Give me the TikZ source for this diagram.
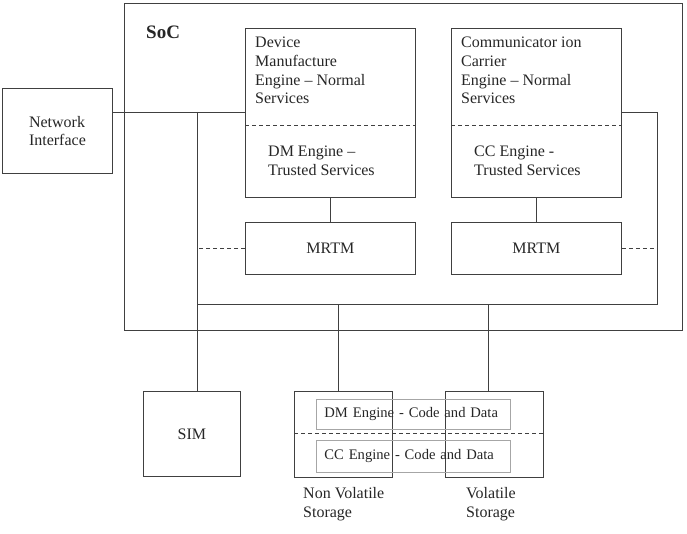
\documentclass[tikz,border=0pt]{standalone}
\usepackage{fontspec}
\setmainfont{Liberation Serif}
\begin{document}
\begin{tikzpicture}[x=1bp,y=-1bp,
  every node/.style={font=\fontsize{16bp}{18.7bp}\selectfont, text=black!85},
  box/.style={draw=black!75, line width=0.9bp, inner sep=0pt, anchor=north west},
  graybox/.style={draw=black!35, line width=0.9bp, inner ysep=0pt, inner xsep=8bp, anchor=north west, align=left, font=\fontsize{14.6bp}{17bp}\selectfont},
  conn/.style={draw=black!75, line width=0.9bp},
  dconn/.style={draw=black!75, line width=0.9bp, dashed, dash pattern=on 4bp off 3bp},
  txt/.style={inner sep=0pt, anchor=north west, align=left}]
\useasboundingbox (0,0) rectangle (687,534);

% boxes
\node[box, minimum width=558bp, minimum height=327bp] (soc) at (124,3) {};
\node[box, minimum width=110bp, minimum height=85bp, align=left] (ni) at (2,88) {Network\\Interface};
\node[box, minimum width=170bp, minimum height=169bp] (dm) at (245,28) {};
\node[box, minimum width=170bp, minimum height=169bp] (cc) at (451,28) {};
\node[box, minimum width=170bp, minimum height=52bp] (mrtm1) at (245,222) {MRTM};
\node[box, minimum width=170bp, minimum height=52bp] (mrtm2) at (451,222) {MRTM};
\node[box, minimum width=97bp, minimum height=85bp] (sim) at (143,391) {SIM};
\node[box, minimum width=98bp, minimum height=86bp] (nv) at (294,391) {};
\node[box, minimum width=98bp, minimum height=86bp] (vs) at (445,391) {};
\node[graybox, text width=178bp, minimum height=30bp] (dmcode) at (316,399) {DM Engine - Code and Data};
\node[graybox, text width=178bp, minimum height=32bp] (cccode) at (316,440) {CC Engine - Code and Data};

% texts
\node[inner sep=0pt, anchor=north west, font=\fontsize{19bp}{22bp}\selectfont\bfseries] (soclabel) at (146,26) {SoC};
\node[txt] (dmnormal) at (255,37) {Device\\Manufacture\\Engine – Normal\\Services};
\node[txt] (dmtrusted) at (268,146) {DM Engine –\\Trusted Services};
\node[txt] (ccnormal) at (461,37) {Communicator ion\\Carrier\\Engine – Normal\\Services};
\node[txt] (cctrusted) at (474,146) {CC Engine -\\Trusted Services};
\node[txt] (nvlabel) at (303,487) {Non Volatile\\Storage};
\node[txt] (vslabel) at (466,487) {Volatile\\Storage};

% dashed separators
\draw[dconn] ([yshift=-97bp]dm.north west) -- ([yshift=-97bp]dm.north east);
\draw[dconn] ([yshift=-97bp]cc.north west) -- ([yshift=-97bp]cc.north east);
\coordinate (sl) at (294,433);
\coordinate (sr) at (543,433);
\draw[dconn] (sl) -- (sr);

% connectors
\coordinate (j1) at (197,112);
\coordinate (j2) at (197,304);
\coordinate (j3) at (657,304);
\coordinate (j4) at (657,112);
\coordinate (t1) at (338,304);
\coordinate (t2) at (488,304);
\draw[conn] (ni.east |- j1) -- (dm.west |- j1);
\draw[conn] (j1) -- (j1 |- sim.north);
\draw[conn] (cc.east |- j4) -- (j4) -- (j3) -- (j2);
\draw[conn] (dm.south) -- (mrtm1.north);
\draw[conn] (cc.south) -- (mrtm2.north);
\draw[dconn] (mrtm1.west) -- (mrtm1.west -| j1);
\draw[dconn] (mrtm2.east) -- (mrtm2.east -| j4);
\draw[conn] (t1) -- (t1 |- nv.north);
\draw[conn] (t2) -- (t2 |- vs.north);
\end{tikzpicture}
\end{document}
